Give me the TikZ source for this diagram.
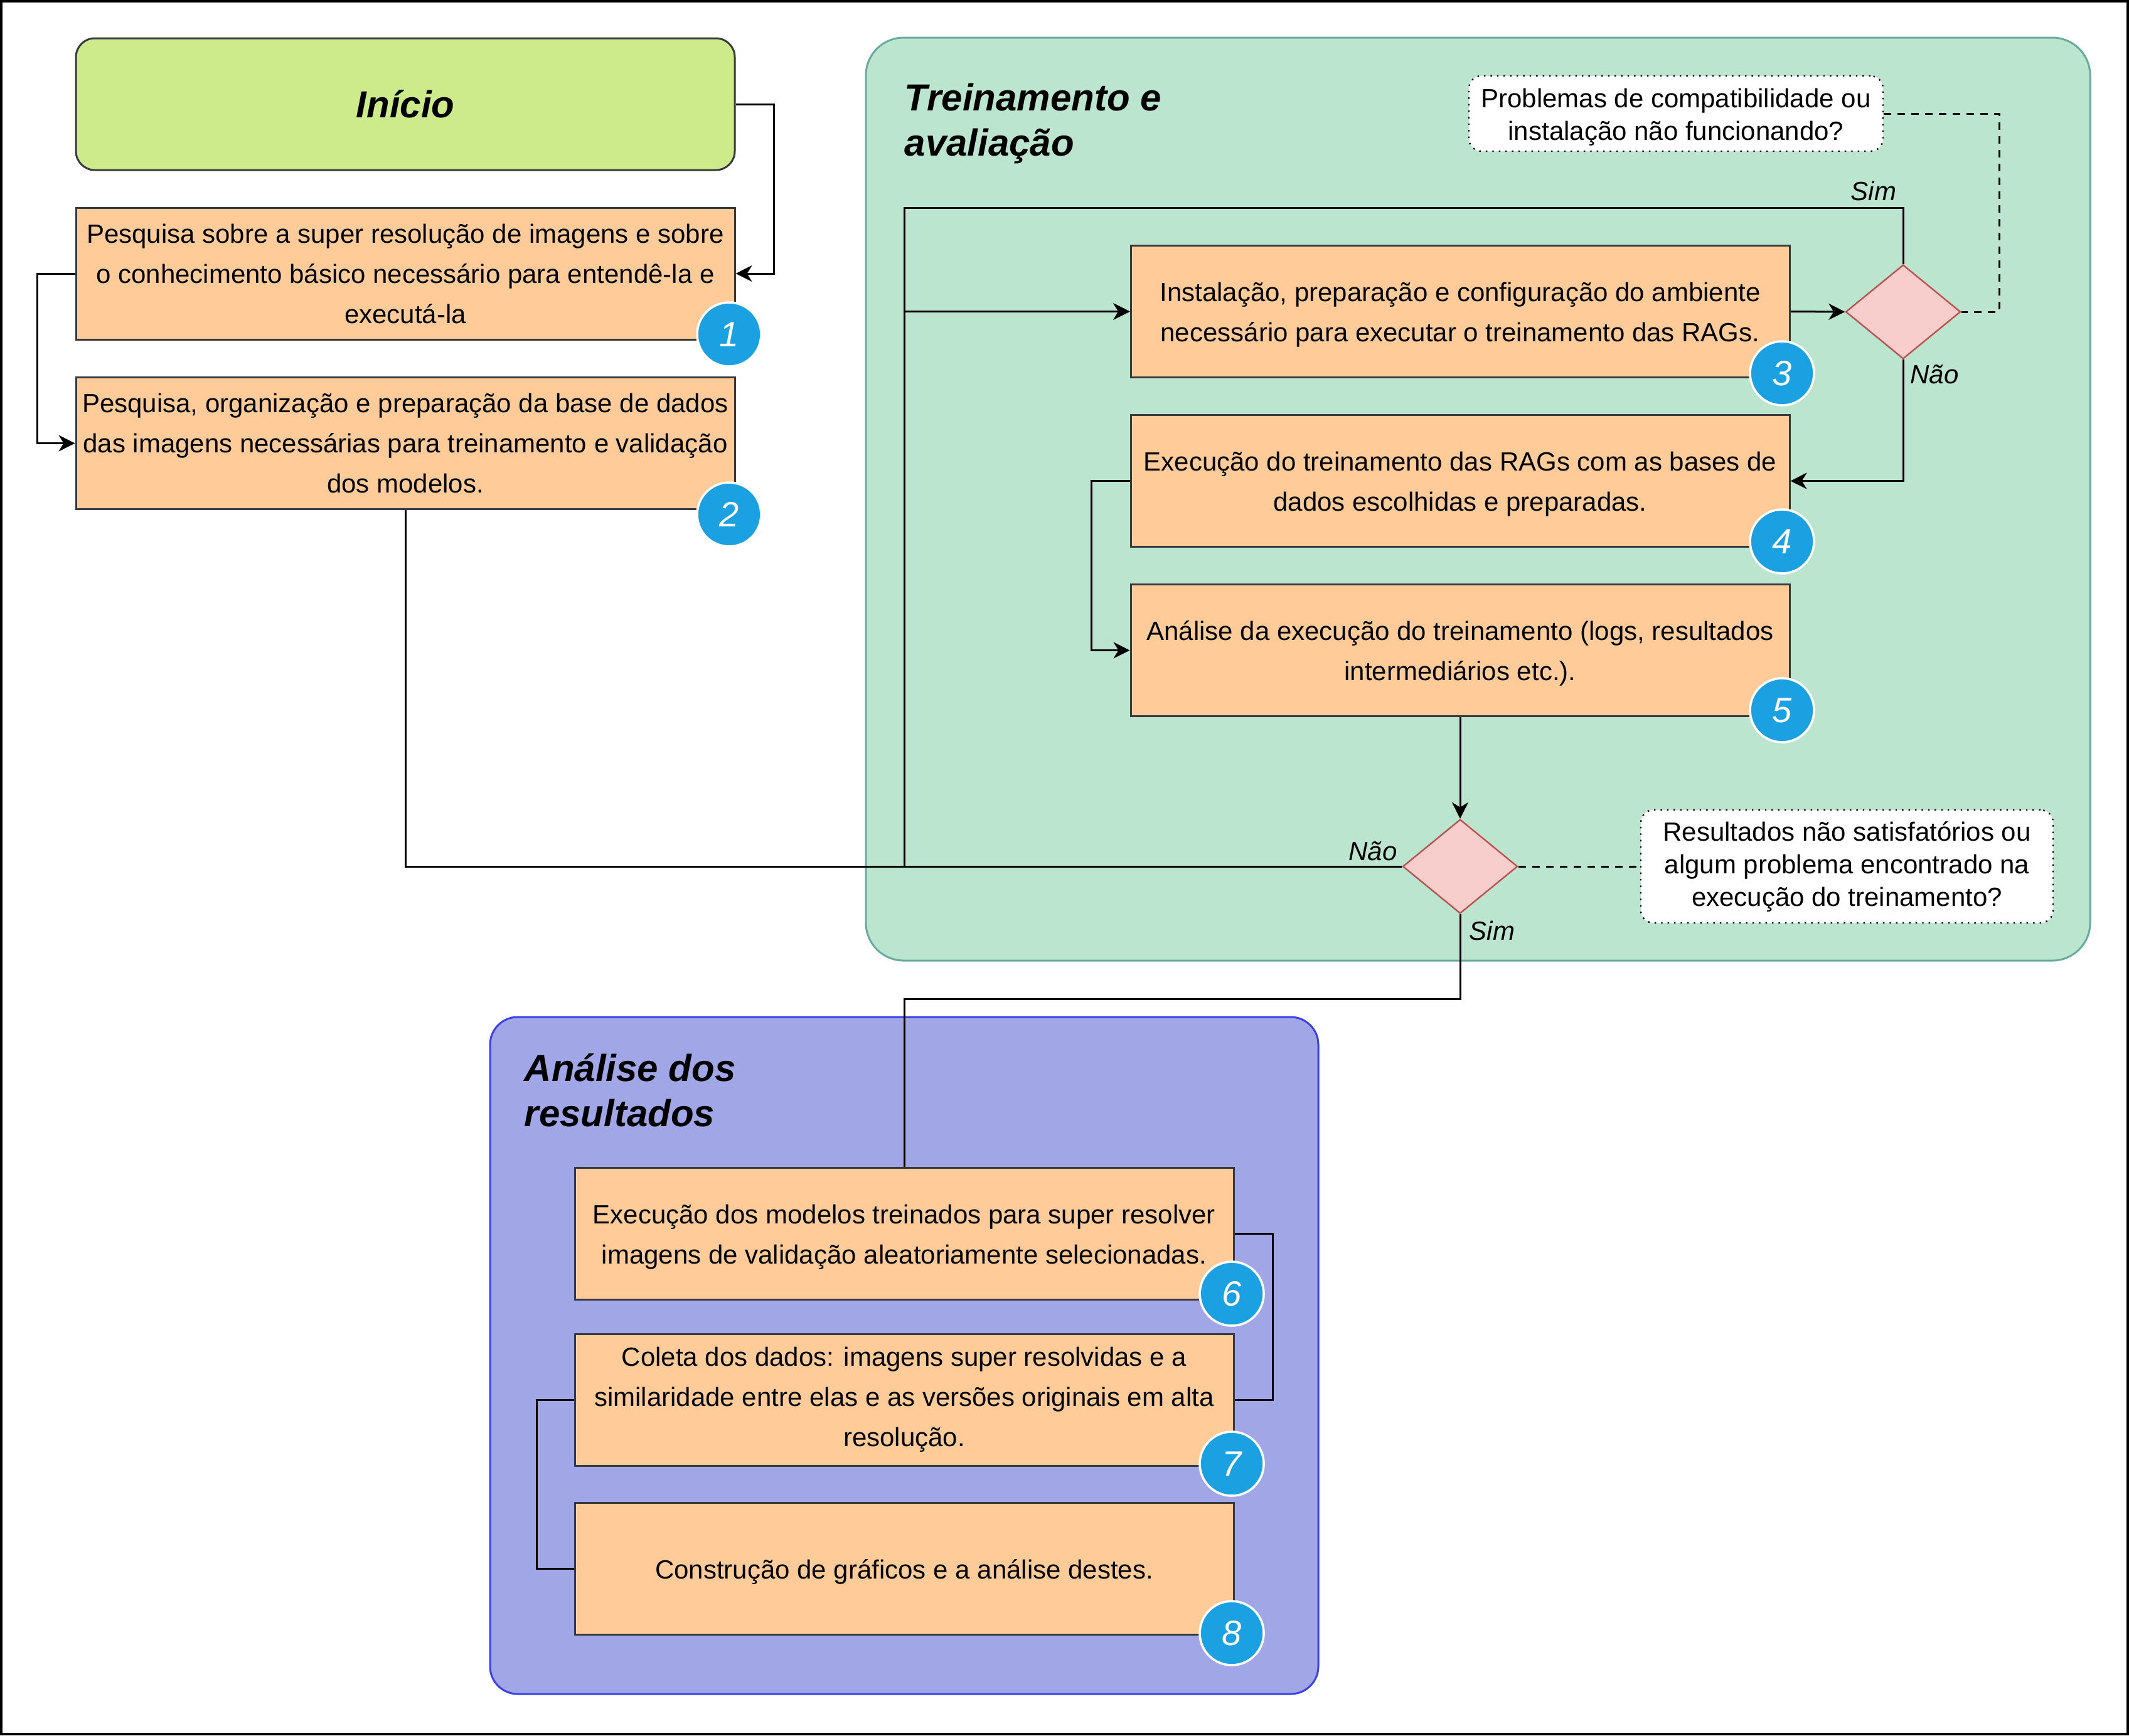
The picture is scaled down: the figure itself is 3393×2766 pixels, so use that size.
\documentclass[tikz,border=0pt]{standalone}
\usepackage{fontspec}
\setmainfont{Liberation Sans}
\usetikzlibrary{shapes.geometric,arrows.meta}

\definecolor{boxfill}{HTML}{FFCC99}
\definecolor{boxdraw}{HTML}{36393D}
\definecolor{inifill}{HTML}{CDEB8B}
\definecolor{dfill}{HTML}{F8CECC}
\definecolor{ddraw}{HTML}{B85450}
\definecolor{gfill}{RGB}{188,229,208}
\definecolor{gdraw}{HTML}{67AB9F}
\definecolor{bfill}{RGB}{160,166,230}
\definecolor{bdraw}{RGB}{58,64,226}
\definecolor{badgeblue}{HTML}{1BA1E2}
\newcommand{\tstrut}{\rule{0pt}{10.4pt}}

\begin{document}
\begin{tikzpicture}[x=0.25pt,y=-0.25pt,
  stepbox/.style={draw=boxdraw, fill=boxfill, line width=0.75pt,
    minimum width=262.5pt, minimum height=52.5pt, inner sep=0pt,
    align=center, font=\fontsize{10.5}{16}\selectfont},
  startbox/.style={draw=boxdraw, fill=inifill, line width=0.75pt, rounded corners=7.5pt,
    minimum width=262.5pt, minimum height=52.5pt, inner sep=0pt,
    font=\fontsize{15}{18}\selectfont\bfseries\itshape},
  decision/.style={diamond, draw=ddraw, fill=dfill, line width=0.6pt, inner sep=0pt,
    minimum width=45.75pt, minimum height=37.5pt},
  badge/.style={circle, fill=badgeblue, draw=white, line width=0.9pt, inner sep=0pt,
    minimum size=25.5pt, text=white, font=\fontsize{14}{14}\selectfont\itshape},
  callout/.style={draw=black, dotted, line width=0.6pt, fill=white, rounded corners=5pt,
    inner sep=0pt, align=center, font=\fontsize{10.5}{13}\selectfont},
  title/.style={align=left, anchor=west, inner sep=0pt,
    font=\fontsize{15}{18}\selectfont\bfseries\itshape},
  lbl/.style={inner sep=0pt, font=\fontsize{10.5}{12}\selectfont\itshape},
  conn/.style={draw=black, line width=0.75pt},
  arr/.style={conn, -{Stealth[length=6.5pt, width=6.5pt, inset=2pt]}},
  dsh/.style={draw=black, line width=0.75pt, dash pattern=on 3pt off 2.5pt},
]
\useasboundingbox (0,0) rectangle (3393,2766);
\draw[line width=1pt] (2,2) rectangle (3391,2764);

% containers
\draw[fill=gfill, draw=gdraw, line width=0.75pt, rounded corners=15pt] (1380,60) rectangle (3331,1531);
\draw[fill=bfill, draw=bdraw, line width=0.75pt, rounded corners=11pt] (781,1621) rectangle (2101,2700);

\node[title] (t1) at (1441,197) {Treinamento e\\avaliação};
\node[title] (t2) at (835,1738) {Análise dos\\resultados};

% boxes
\node[startbox] (ini) at (646,166) {Início};
\node[stepbox] (b1) at (646,436) {Pesquisa sobre a super resolução de imagens e sobre\\o conhecimento básico necessário para entendê-la e\\executá-la};
\node[stepbox] (b2) at (646,706.5) {Pesquisa, organização e preparação da base de dados\\das imagens necessárias para treinamento e validação\\dos modelos.};
\node[stepbox] (b3) at (2327,496.5) {\tstrut Instalação, preparação e configuração do ambiente\\necessário para executar o treinamento das RAGs.};
\node[stepbox] (b4) at (2327,766.5) {\tstrut Execução do treinamento das RAGs com as bases de\\dados escolhidas e preparadas.};
\node[stepbox] (b5) at (2327,1036.5) {\tstrut Análise da execução do treinamento (logs, resultados\\intermediários etc.).};
\node[stepbox] (b6) at (1441,1966) {\tstrut Execução dos modelos treinados para super resolver\\imagens de validação aleatoriamente selecionadas.};
\node[stepbox] (b7) at (1441,2231) {Coleta dos dados: imagens super resolvidas e a\\similaridade entre elas e as versões originais em alta\\resolução.};
\node[stepbox] (b8) at (1441,2500) {\tstrut Construção de gráficos e a análise destes.};

% decisions
\node[decision] (d1) at (3033,497) {};
\node[decision] (d2) at (2327,1381) {};

% callouts
\node[callout, minimum width=165pt, minimum height=30pt] (c1) at (2671,181) {\tstrut Problemas de compatibilidade ou\\instalação não funcionando?};
\node[callout, minimum width=164.25pt, minimum height=45pt] (c2) at (2943.5,1381) {Resultados não satisfatórios ou\\algum problema encontrado na\\execução do treinamento?};

% helper coordinates
\coordinate (j1) at (1441,1381);
\coordinate (j2) at (1441,331);
\coordinate (j3) at (1441,1592);

% connectors
\draw[arr] (ini.east) -- ++(61,0) |- (b1.east);
\draw[arr] (b1.west) -- ++(-60,0) |- (b2.west);
\draw[arr] (b2.south) |- (j1) |- (b3.west);
\draw[arr] (d2.west) -- (j1) |- (b3.west);
\draw[arr] (d1.north) |- (j2) |- (b3.west);
\draw[arr] (b3.east) -- (d1.west);
\draw[arr] (d1.south) |- (b4.east);
\draw[arr] (b4.west) -- ++(-61,0) |- (b5.west);
\draw[arr] (b5.south) -- (d2.north);
\draw[conn] (d2.south) |- (j3) -- (b6.north);
\draw[conn] (b6.east) -- ++(61,0) |- (b7.east);
\draw[conn] (b7.west) -- ++(-59,0) |- (b8.west);
\draw[dsh] (c1.east) -- ++(184,0) |- (d1.east);
\draw[dsh] (d2.east) -- (c2.west);

% labels
\node[lbl] (l1) at (2986,304) {Sim};
\node[lbl] (l2) at (3083,597) {Não};
\node[lbl] (l3) at (2188,1357) {Não};
\node[lbl] (l4) at (2378,1483) {Sim};

% badges
\node[badge] (n1) at (1162,533) {1};
\node[badge] (n2) at (1162,820) {2};
\node[badge] (n3) at (2840,595) {3};
\node[badge] (n4) at (2840,863) {4};
\node[badge] (n5) at (2840,1132) {5};
\node[badge] (n6) at (1963,2062) {6};
\node[badge] (n7) at (1963,2333) {7};
\node[badge] (n8) at (1963,2603) {8};
\end{tikzpicture}
\end{document}
